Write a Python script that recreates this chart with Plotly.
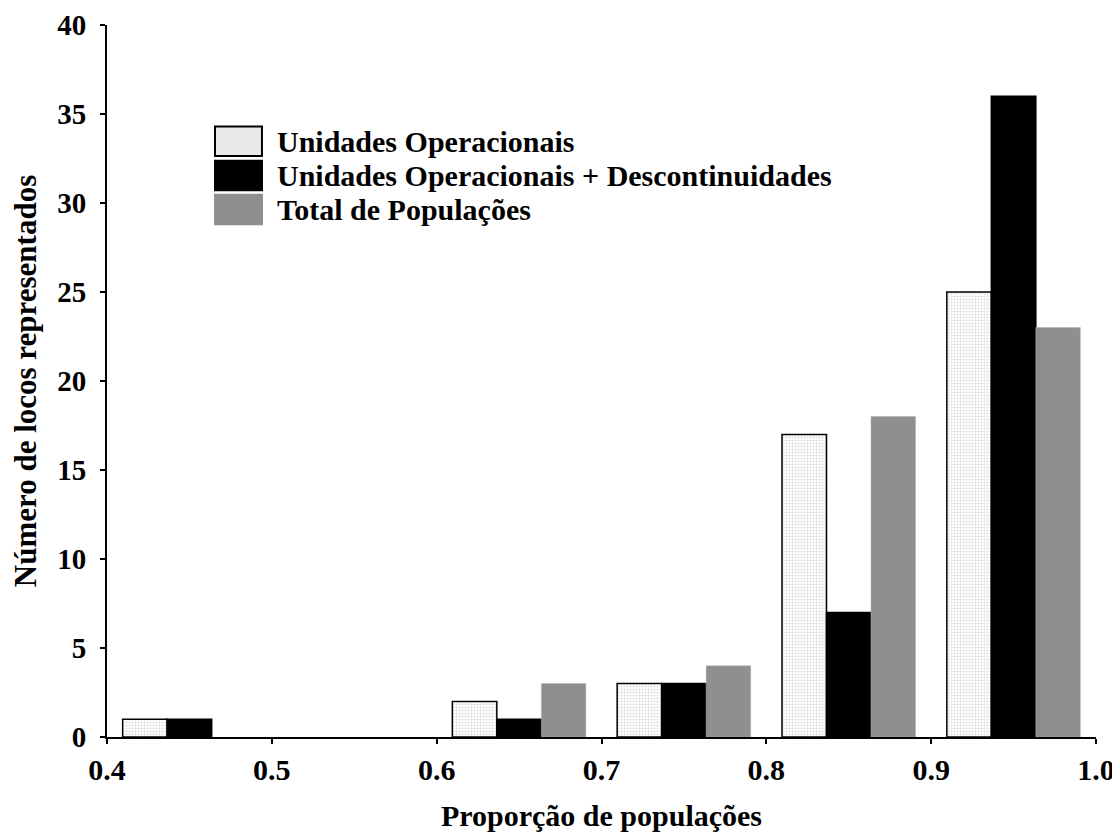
import plotly.graph_objects as go

# classes de proporção (centro de cada intervalo de 0.1)
bin_centers = [0.45, 0.55, 0.65, 0.75, 0.85, 0.95]

series_names = [
    "Unidades Operacionais",
    "Unidades Operacionais + Descontinuidades",
    "Total de Populações",
]
# None = sem barra nessa classe
unidades_op = [1, None, 2, 3, 17, 25]
unidades_op_desc = [1, None, 1, 3, 7, 36]
total_pop = [None, None, 3, 4, 18, 23]

x_ticks = [0.4, 0.5, 0.6, 0.7, 0.8, 0.9, 1.0]
y_ticks = [0, 5, 10, 15, 20, 25, 30, 35, 40]

FONT = "Liberation Serif, Times New Roman, serif"
LIGHT, BLACK, GREY = "#bdbdbd", "black", "#8f8f8f"

fig = go.Figure()
fig.add_trace(go.Bar(
    x=bin_centers, y=unidades_op, name=series_names[0],
    marker=dict(
        color="white",
        line=dict(color="black", width=1.5),
        pattern=dict(shape="+", fgcolor=LIGHT, bgcolor="white", size=3, solidity=0.35),
    ),
))
fig.add_trace(go.Bar(
    x=bin_centers, y=unidades_op_desc, name=series_names[1],
    marker=dict(color=BLACK, line=dict(color="black", width=1.5)),
))
fig.add_trace(go.Bar(
    x=bin_centers, y=total_pop, name=series_names[2],
    marker=dict(color=GREY, line=dict(color="#b0b0b0", width=0.5)),
))

# legenda desenhada à mão (caixas grandes, espaçamento apertado como no original)
key_fill = ["#e8e8e8", BLACK, GREY]
key_line = ["black", "black", GREY]
row_y = [0.8366, 0.7887, 0.7408]
for name, fill, edge, yc in zip(series_names, key_fill, key_line, row_y):
    fig.add_shape(type="rect", xref="paper", yref="paper",
                  x0=0.1092, x1=0.1567, y0=yc - 0.0207, y1=yc + 0.0207,
                  fillcolor=fill, line=dict(color=edge, width=2))
    fig.add_annotation(xref="paper", yref="paper", x=0.1699, y=yc,
                       xanchor="left", yanchor="middle", showarrow=False,
                       text=f"<b>{name}</b>",
                       font=dict(family=FONT, size=30, color="black"))

# a página tem margem de 8px no corpo: figura um pouco menor
fig.update_layout(
    width=1112, height=826,
    margin=dict(l=99, r=24, t=17, b=97),
    paper_bgcolor="white", plot_bgcolor="white",
    barmode="group", bargap=0.19, bargroupgap=0,
    font=dict(family=FONT, size=30, color="black"),
    showlegend=False,
)
fig.update_xaxes(
    range=[0.4, 1.0], tickvals=x_ticks, ticktext=[f"{v:.1f}" for v in x_ticks],
    showline=True, linecolor="black", linewidth=2,
    ticks="outside", ticklen=5, tickwidth=1.5, tickcolor="black",
    showgrid=False, zeroline=False, automargin=False, ticklabeloverflow="allow",
    tickfont=dict(family=FONT, size=30, color="black", weight="bold"),
    title=dict(text="<b>Proporção de populações</b>", standoff=20,
               font=dict(family=FONT, size=30, color="black")),
)
fig.update_yaxes(
    range=[0, 40], tickvals=y_ticks,
    showline=True, linecolor="black", linewidth=2,
    ticks="outside", ticklen=5, tickwidth=1.5, tickcolor="black",
    showgrid=False, zeroline=False, ticklabelstandoff=8, automargin=False,
    ticklabeloverflow="allow",
    tickfont=dict(family=FONT, size=29, color="black", weight="bold"),
    title=dict(text="<b>Número de locos representados</b>", standoff=12,
               font=dict(family=FONT, size=31, color="black")),
)

fig.write_html("out.html")
